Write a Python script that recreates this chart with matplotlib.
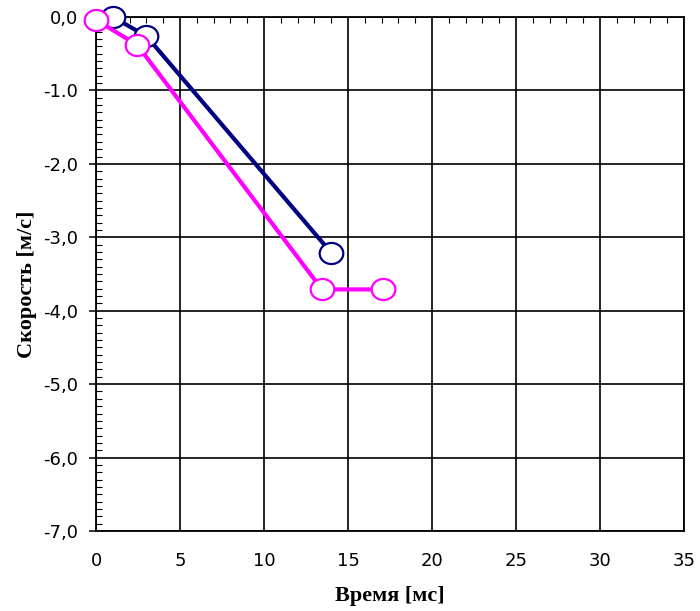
import matplotlib.pyplot as plt
import numpy as np
from matplotlib.path import Path
from matplotlib.transforms import Affine2D
from matplotlib.ticker import MultipleLocator, FixedLocator

# series
navy_time = [1.0, 3.0, 14.0]
navy_speed = [0.0, -0.26, -3.21]
pink_time = [0.0, 2.45, 13.45, 17.1]
pink_speed = [-0.04, -0.38, -3.71, -3.71]

y_ticks = [0, -1, -2, -3, -4, -5, -6, -7]
y_labels = ['0,0', '-1.0', '-2,0', '-3,0', '-4,0', '-5,0', '-6,0', '-7,0']
x_ticks = [0, 5, 10, 15, 20, 25, 30, 35]

# slightly wide ellipse marker, as in the original
circle = Path.unit_circle()
ellipse = Path(Affine2D().scale(1.12, 1.0).transform(circle.vertices), circle.codes)

fig = plt.figure(figsize=(7, 6.11), dpi=100)
ax = fig.add_axes([96 / 700, 1 - 531 / 611, 588 / 700, 514 / 611])

ax.plot(navy_time, navy_speed, color='#000080', lw=3, marker=ellipse, ms=17,
        mfc='white', mec='#000080', mew=1.6, clip_on=False, zorder=4)
ax.plot(pink_time, pink_speed, color='#FF00FF', lw=3, marker=ellipse, ms=17,
        mfc='white', mec='#FF00FF', mew=1.6, clip_on=False, zorder=5)

ax.set_xlim(0, 35)
ax.set_ylim(-7, 0)
ax.set_xticks(x_ticks)
ax.set_yticks(y_ticks)
ax.set_yticklabels(y_labels)
ax.yaxis.set_minor_locator(MultipleLocator(0.1))
ax.xaxis.set_minor_locator(FixedLocator(np.arange(0, 36, 1)))

ax.grid(True, which='major', color='black', lw=1.2)
for s in ax.spines.values():
    s.set_linewidth(1.3)
    s.set_color('black')

ax.tick_params(axis='both', which='major', labelsize=13, length=5, width=1.1,
               direction='out', pad=8, labelfontfamily='DejaVu Sans')
ax.tick_params(axis='x', which='major', length=0, pad=15)
ax.tick_params(axis='y', which='minor', length=4, width=0.8, direction='in')
ax.tick_params(axis='x', which='minor', bottom=False, top=True, length=4,
               width=0.8, direction='in')

ax.set_xlabel('Время [мс]', fontsize=16, fontweight='bold',
              family='Liberation Serif', labelpad=12)
ax.set_ylabel('Скорость [м/с]', fontsize=16, fontweight='bold',
              family='Liberation Serif')
ax.yaxis.set_label_coords(-0.10, 0.48)

plt.savefig('out.png', dpi=100)
plt.close()
